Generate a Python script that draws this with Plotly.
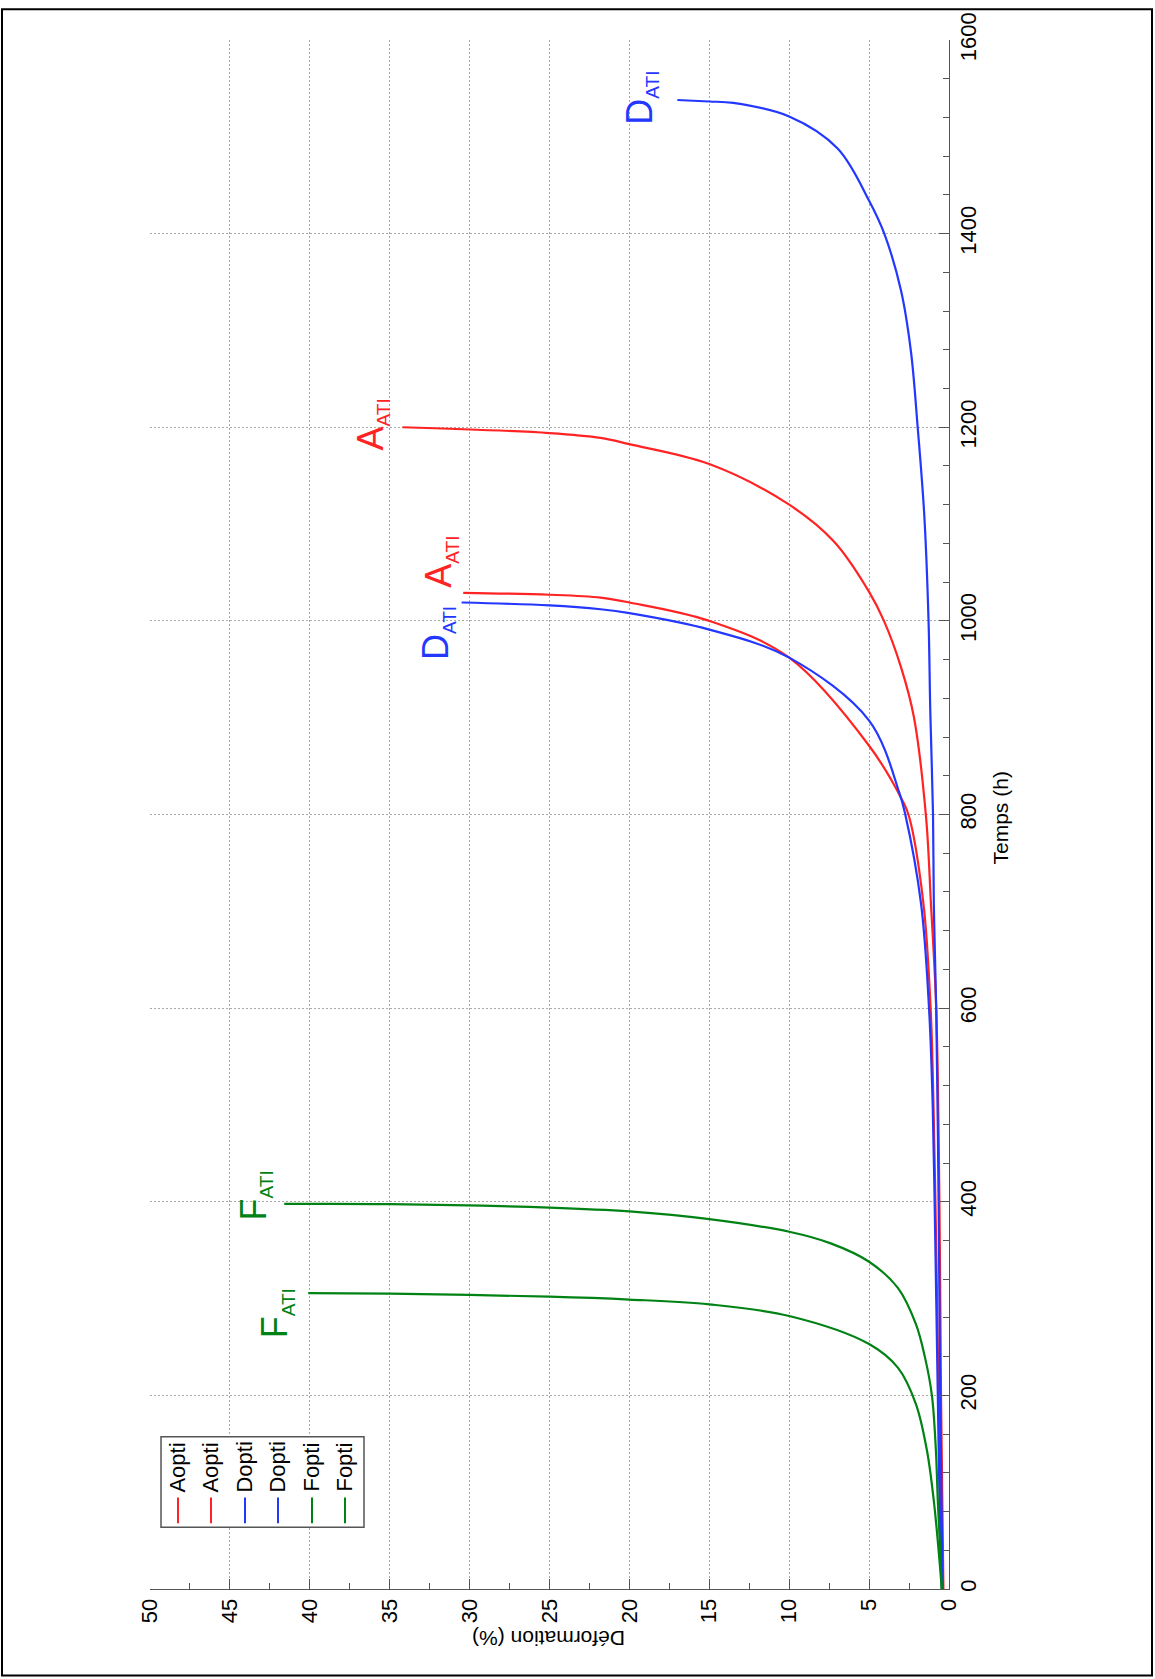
import plotly.graph_objects as go

# ---------------- data (time in h, deformation in %) ----------------
t_A1 = [0, 100, 200, 300, 400, 500, 600, 708, 798, 814, 871, 962, 1000, 1019, 1024, 1027, 1029]
d_A1 = [0.4, 0.55, 0.65, 0.75, 0.85, 0.97, 1.15, 1.6, 2.5, 2.9, 5.0, 10, 15, 20, 21.8, 25, 30.4]

t_A2 = [0, 200, 400, 600, 708, 798, 901, 952, 1000, 1030, 1082, 1120, 1162, 1182.5, 1189, 1194, 1200]
d_A2 = [0.35, 0.5, 0.6, 0.8, 1.13, 1.44, 2.2, 3.0, 4.07, 5.0, 7.2, 10, 15, 20, 21.8, 25, 34.2]

t_D1 = [0, 100, 200, 300, 400, 500, 600, 708, 801, 822, 897, 962, 991, 1008, 1012, 1016, 1019]
d_D1 = [0.45, 0.6, 0.7, 0.8, 0.9, 1.02, 1.25, 1.75, 2.75, 3.1, 5.0, 10, 15, 20, 21.8, 25, 30.5]

t_D2 = [0, 200, 400, 600, 708, 800, 906, 1000, 1110, 1200, 1278, 1341, 1400, 1434, 1488, 1521, 1535, 1536.5, 1538]
d_D2 = [0.4, 0.55, 0.65, 0.8, 0.95, 1.0, 1.17, 1.28, 1.55, 1.96, 2.38, 3.0, 4.05, 5.0, 6.97, 10, 13.5, 15, 17.0]

t_F1 = [0, 40, 91, 143, 200, 239, 273.5, 311, 338, 357, 369, 382, 390, 394, 397.6, 397.8]
d_F1 = [0.45, 0.55, 0.7, 0.82, 1.07, 1.5, 2.07, 3.2, 5.0, 7.4, 10, 15, 20, 25, 35, 41.6]

t_F2 = [0, 40, 91, 143, 191, 228.6, 253, 282, 294, 299, 302, 305, 305.7]
d_F2 = [0.45, 0.65, 0.95, 1.38, 2.07, 3.2, 5.0, 10, 15, 20, 25, 35, 40.1]

series_names = ["Aopti", "Aopti", "Dopti", "Dopti", "Fopti", "Fopti"]
series_t = [t_A1, t_A2, t_D1, t_D2, t_F1, t_F2]
series_d = [d_A1, d_A2, d_D1, d_D2, d_F1, d_F2]

label_main = ["A", "A", "D", "D", "F", "F"]
label_sub = "ATI"
label_d = [31.8, 36.1, 32.0, 19.3, 43.4, 42.1]
label_t = [1061, 1203, 987, 1540, 407, 285]

x_ticks = [0, 5, 10, 15, 20, 25, 30, 35, 40, 45, 50]
y_ticks = [0, 200, 400, 600, 800, 1000, 1200, 1400, 1600]

RED = "rgb(255,35,35)"
BLUE = "rgb(35,55,255)"
GREEN = "rgb(0,130,20)"
colors = [RED, RED, BLUE, BLUE, GREEN, GREEN]

FONT = "Liberation Sans, Arial, sans-serif"

# plot area in pixels
W, H = 1155, 1679
L, R, T, B = 150, 949, 33, 1589


def px(x):
    return (x - L) / (R - L)


def py(y):
    return (B - y) / (B - T)


fig = go.Figure()
for name, tt, dd, c in zip(series_names, series_t, series_d, colors):
    fig.add_trace(go.Scatter(x=dd, y=tt, mode="lines", name=name,
                             line=dict(color=c, width=2.2, shape="spline", smoothing=1.0),
                             showlegend=False, hoverinfo="skip"))

annotations = []
for m, d, t, c in zip(label_main, label_d, label_t, colors):
    annotations.append(dict(
        x=d, y=t, xref="x", yref="y", showarrow=False, textangle=-90,
        xanchor="center", yanchor="middle",
        text=f"{m}<sub><span style='font-size:19px'>{label_sub}</span></sub>",
        font=dict(family=FONT, size=36, color=c)))

# axis titles (rotated like the reference)
annotations.append(dict(x=px(1000), y=py(815), xref="paper", yref="paper", showarrow=False,
                        textangle=-90, xanchor="center", yanchor="middle", text="Temps (h)",
                        font=dict(family=FONT, size=21, color="black")))
annotations.append(dict(x=px(549), y=py(1638), xref="paper", yref="paper", showarrow=False,
                        textangle=180, xanchor="center", yanchor="middle", text="Déformation (%)",
                        font=dict(family=FONT, size=21, color="black")))

shapes = []
# outer frame
shapes.append(dict(type="rect", xref="paper", yref="paper", x0=px(2), x1=px(1152),
                   y0=py(1676), y1=py(2), line=dict(color="black", width=2), layer="above"))
# legend box
shapes.append(dict(type="rect", xref="paper", yref="paper", x0=px(161), x1=px(364),
                   y0=py(1527), y1=py(1436), line=dict(color="#555", width=1.5),
                   fillcolor="white", layer="above"))
leg_x = [178, 211, 245, 278, 312, 345]
for lx, name, c in zip(leg_x, series_names, colors):
    shapes.append(dict(type="line", xref="paper", yref="paper", x0=px(lx), x1=px(lx),
                       y0=py(1523), y1=py(1497), line=dict(color=c, width=2), layer="above"))
    annotations.append(dict(x=px(lx), y=py(1467), xref="paper", yref="paper", showarrow=False,
                            textangle=-90, xanchor="center", yanchor="middle", text=name,
                            font=dict(family=FONT, size=22, color="black")))

common_axis = dict(ticks="inside", ticklen=10, tickwidth=1, tickcolor="#555",
                   showline=True, linecolor="#555", linewidth=1, mirror=False,
                   showgrid=True, gridcolor="#a8a8a8", griddash="2px,2px", gridwidth=1,
                   zeroline=False, tickangle=-90, tickfont=dict(family=FONT, size=22))

fig.update_layout(
    width=W, height=H,
    margin=dict(l=L, r=W - R, t=T, b=H - B, pad=0),
    plot_bgcolor="white", paper_bgcolor="white",
    font=dict(family=FONT, size=21, color="black"),
    showlegend=False,
    annotations=annotations, shapes=shapes,
    xaxis=dict(range=[50, 0], tickvals=x_ticks, ticktext=[str(v) for v in x_ticks],
               minor=dict(tickvals=[2.5 + 5 * i for i in range(10)], ticks="inside",
                          ticklen=6, tickcolor="#555", showgrid=False),
               **common_axis),
    yaxis=dict(range=[0, 1600], tickvals=y_ticks, ticktext=[str(v) for v in y_ticks],
               side="right",
               minor=dict(tickvals=[40 * i for i in range(41) if (40 * i) % 200 != 0],
                          ticks="inside", ticklen=6, tickcolor="#555", showgrid=False),
               **common_axis),
)

fig.write_html("out.html", config={"displayModeBar": False},
               post_script="document.body.style.margin='0';document.body.style.overflow='hidden';")
